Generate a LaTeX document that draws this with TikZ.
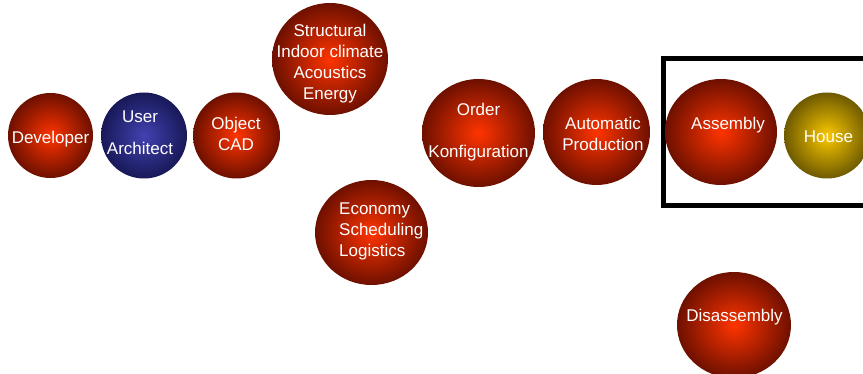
\documentclass[tikz,border=0pt]{standalone}
\usepackage{fontspec}
\setmainfont{Liberation Sans}
\usetikzlibrary{shapes}
\definecolor{ballred}{RGB}{255,52,0}
\definecolor{balldarkred}{RGB}{110,16,0}
\definecolor{ballblue}{RGB}{66,66,178}
\definecolor{balldarkblue}{RGB}{24,24,88}
\definecolor{ballyellow}{RGB}{250,200,0}
\definecolor{balldarkyellow}{RGB}{110,90,0}
\tikzset{
  redball/.style={ellipse, inner sep=0pt, shading=radial, inner color=ballred, outer color=balldarkred},
  blueball/.style={ellipse, inner sep=0pt, shading=radial, inner color=ballblue, outer color=balldarkblue},
  yellowball/.style={ellipse, inner sep=0pt, shading=radial, inner color=ballyellow, outer color=balldarkyellow},
  balltext/.style={text=white, align=center, inner sep=0pt, font=\fontsize{17}{21}\selectfont}
}
\newcommand{\ball}[5] {\node at (#1) (#2) [#3, minimum width=#4, minimum height=#5] {};}
\newcommand{\balltext}[3] {\node at (#1) (#2) [balltext] {#3};}

\begin{document}
\begin{tikzpicture}[x=1pt, y=-1pt]
\clip (0,0) rectangle (863,374);

\draw [line width=5pt] (663.5,58.5) rectangle (880,206);

\ball {50.5,135.5} {developer} {redball} {85pt} {85pt};
\ball {144,135.5} {user} {blueball} {86pt} {86pt};
\ball {236.5,135.5} {object} {redball} {87pt} {86pt};
\ball {330,59} {structural} {redball} {116pt} {112pt};
\ball {371.5,232.5} {economy} {redball} {113pt} {105pt};
\ball {478.5,133} {order} {redball} {113pt} {108pt};
\ball {596.5,132} {automatic} {redball} {107pt} {106pt};
\ball {721,132} {assembly} {redball} {112pt} {106pt};
\ball {827,135.5} {house} {yellowball} {86pt} {86pt};
\ball {734,325} {disassembly} {redball} {114pt} {106pt};

\balltext {50.5,138.9} {developer-t} {Developer};
\balltext {140,133} {user-t} {User\\[11pt]Architect};
\balltext {236,134} {object-t} {Object\\CAD};
\balltext {330,64} {structural-t} {Structural\\Indoor climate\\Acoustics\\Energy};
\node at (339,231) (economy-t) [balltext, align=left, anchor=west] {Economy\\Scheduling\\Logistics};
\balltext {478.5,132.5} {order-t} {Order\\[21pt]Konfiguration};
\balltext {603,133.5} {automatic-t} {Automatic\\Production};
\balltext {728,124.9} {assembly-t} {Assembly};
\balltext {828.5,137} {house-t} {House};
\balltext {734.5,317.5} {disassembly-t} {Disassembly};

\end{tikzpicture}
\end{document}
